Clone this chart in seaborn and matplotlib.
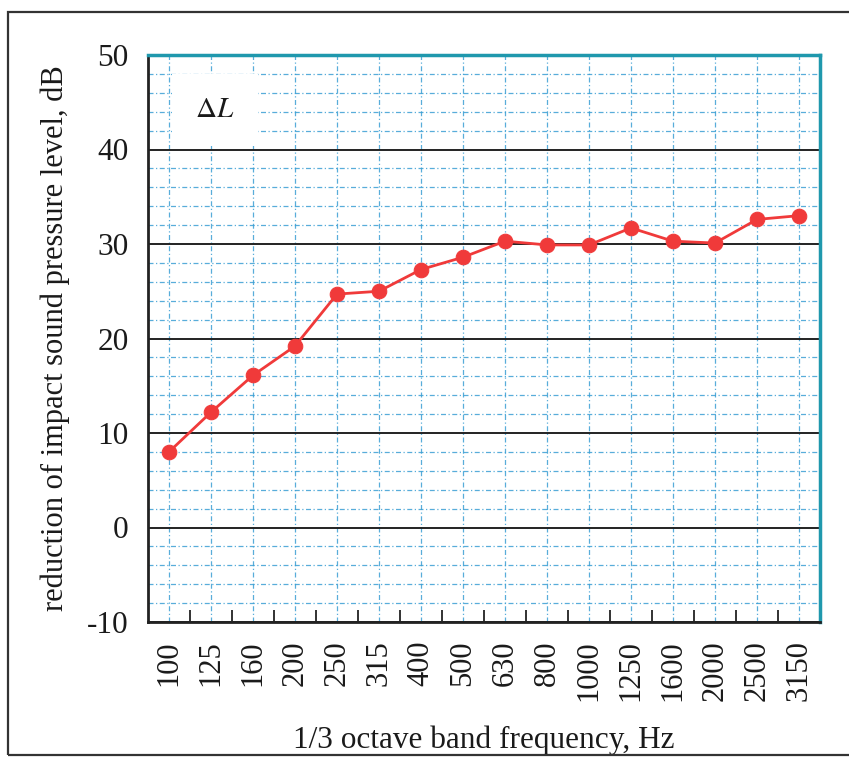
import matplotlib
matplotlib.use("Agg")
import matplotlib.pyplot as plt
import seaborn as sns
import pandas as pd
import numpy as np
from matplotlib.patches import Rectangle
from matplotlib.ticker import MultipleLocator, FixedLocator

freq_labels = ["100", "125", "160", "200", "250", "315", "400", "500", "630",
               "800", "1000", "1250", "1600", "2000", "2500", "3150"]
delta_L = [8.0, 12.2, 16.1, 19.2, 24.7, 25.0, 27.3, 28.6, 30.3,
           29.9, 29.9, 31.7, 30.3, 30.1, 32.6, 33.0]
y_ticks = [-10, 0, 10, 20, 30, 40, 50]

sns.set_theme(style="white")
plt.rcParams["font.family"] = ["Liberation Serif", "DejaVu Serif"]
plt.rcParams["mathtext.fontset"] = "stix"
plt.rcParams["axes.unicode_minus"] = False

df = pd.DataFrame({"freq": freq_labels, "dL": delta_L})

fig = plt.figure(figsize=(8.49, 7.57), dpi=100)
ax = fig.add_axes([148/849, 1-622/757, 672/849, 567/757])

grid_blue = "#3b9fd4"
ax.set_ylim(-10, 50)
ax.yaxis.set_major_locator(FixedLocator(y_ticks))
ax.yaxis.set_minor_locator(MultipleLocator(2))
ax.grid(which="minor", axis="y", color=grid_blue, linestyle=(0, (4, 2, 1, 2)), linewidth=0.9, alpha=0.85)
ax.grid(which="major", axis="y", color="#222222", linestyle="-", linewidth=1.4)

sns.lineplot(data=df, x="freq", y="dL", ax=ax, color="#f03a3a", linewidth=2,
             marker="o", markersize=10.5, markeredgecolor="#f03a3a", sort=False, zorder=5)

ax.set_xlim(-0.5, len(freq_labels) - 0.5)
ax.xaxis.set_major_locator(FixedLocator(range(len(freq_labels))))
ax.set_xticklabels(freq_labels, rotation=90)
ax.grid(which="major", axis="x", color=grid_blue, linestyle=(0, (4, 2, 1, 2)), linewidth=0.9, alpha=0.85)
ax.xaxis.set_minor_locator(FixedLocator(np.arange(0.5, len(freq_labels) - 1, 1.0)))
ax.tick_params(axis="x", which="major", length=0, pad=13, labelsize=22, colors="#1a1a1a")
ax.tick_params(axis="x", which="minor", direction="in", length=9, width=1.3, color="#222222", bottom=True)
ax.tick_params(axis="y", which="major", length=0, pad=14, labelsize=22.5, colors="#1a1a1a")
ax.tick_params(axis="y", which="minor", length=0)

for s in ["left", "bottom"]:
    ax.spines[s].set_color("#222222")
    ax.spines[s].set_linewidth(2)
for s in ["top", "right"]:
    ax.spines[s].set_color("#1f98ad")
    ax.spines[s].set_linewidth(2.5)

ax.set_xlabel("1/3 octave band frequency, Hz", fontsize=22.5, color="#1a1a1a", labelpad=18)
ax.set_ylabel("reduction of impact sound pressure level, dB", fontsize=22, color="#1a1a1a", labelpad=12)

ax.text(0.07, 0.903, r"$\Delta L$", transform=ax.transAxes, fontsize=21, color="#1a1a1a",
        ha="left", va="center", zorder=6,
        bbox=dict(facecolor="white", edgecolor="none", boxstyle="square,pad=0.8"))

fig.patches.append(Rectangle((8/849, 2/757), 1.0, 743/757, transform=fig.transFigure,
                             fill=False, edgecolor="#333333", linewidth=1.6))

fig.savefig("out.png", dpi=100)
